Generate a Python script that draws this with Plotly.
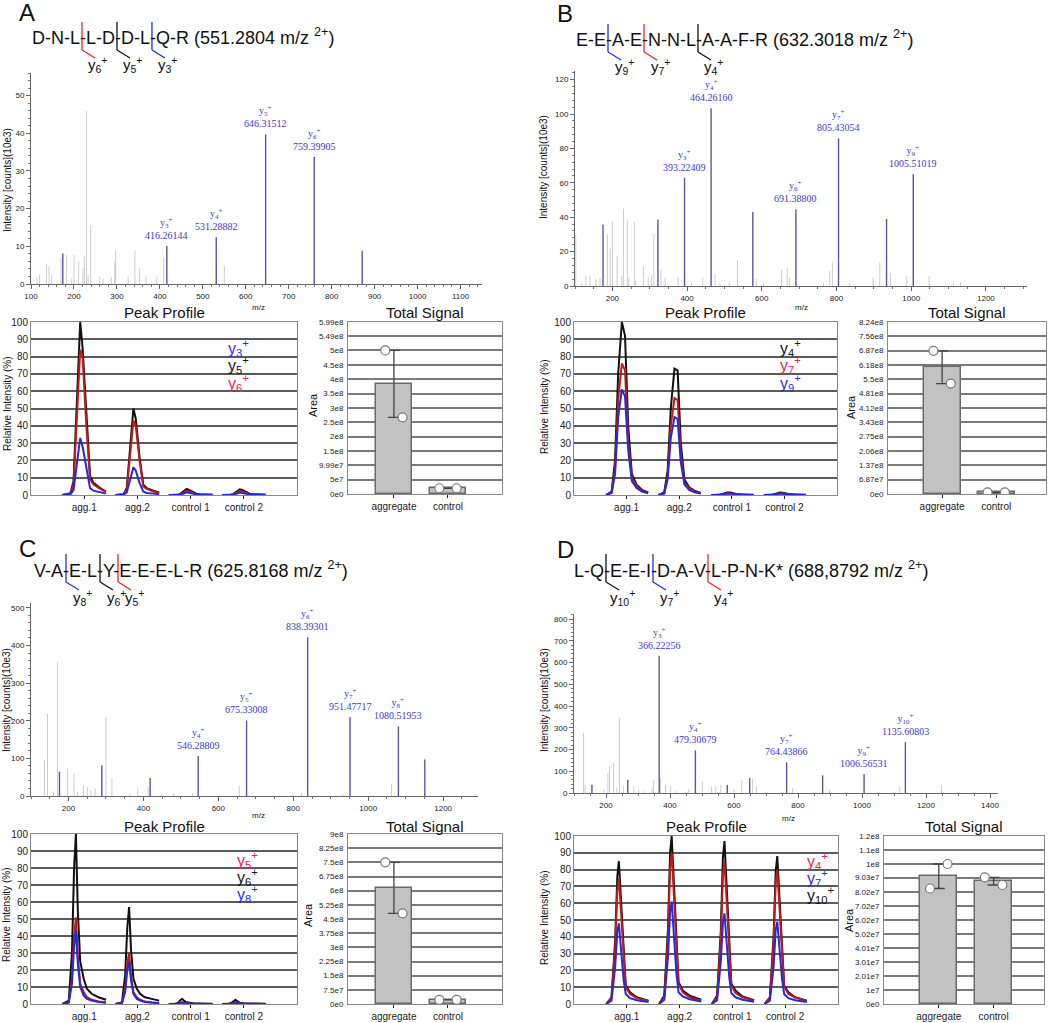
import plotly.graph_objects as go

W, H = 1050, 1023

# ======================= DATA =======================
samples = ["agg.1", "agg.2", "control 1", "control 2"]
groups = ["aggregate", "control"]

# ---------------- Panel A ----------------
A_sequence = ["D", "N", "L", "L", "D", "D", "L", "Q", "R"]
A_precursor = "551.2804"
A_cut_after = [3, 5, 7]
A_cut_ions = ["6", "5", "3"]
A_gray_mz = [114, 120, 136, 142, 148, 170, 183, 195, 200, 211, 221, 224, 229, 233, 239,
             260, 268, 287, 295, 297, 326, 342, 353, 368, 393, 409, 550]
A_gray_int = [1.8, 2.4, 5.3, 4.6, 2.4, 6.8, 7.7, 1.5, 7.7, 5.9, 4.2, 7.4, 46.0, 2.4, 15.6,
              2.0, 1.5, 1.8, 5.9, 8.8, 2.0, 8.8, 4.2, 2.0, 2.0, 7.1, 4.8]
A_blue_mz = [174, 871]
A_blue_int = [8.1, 8.8]
A_lab_mz = [416.26144, 531.28882, 646.31512, 759.39905]
A_lab_int = [10.1, 12.4, 39.7, 33.7]
A_lab_ion = ["3", "4", "5", "6"]
A_pp_offsets = [-0.41, -0.26, -0.20, -0.126, -0.075, -0.03, 0.04, 0.11, 0.175, 0.30, 0.41]
A_pp_y5 = [[0, 1, 8, 60, 100, 85, 45, 11, 7, 4, 2],
           [0, 0.5, 4, 30, 50, 44, 22, 6, 4, 2.5, 1.5],
           [0, 0, 0.5, 2.2, 3.5, 3.0, 1.8, 0.8, 0.5, 0.3, 0.2],
           [0, 0, 0.5, 2.0, 3.3, 2.9, 1.7, 0.8, 0.5, 0.3, 0.2]]
A_pp_y6 = [[0, 0.8, 6, 50, 84, 80, 40, 9, 6, 3.5, 1.8],
           [0, 0.4, 3, 25, 43, 40, 20, 5, 3.5, 2, 1.2],
           [0, 0, 0.3, 1.5, 2.5, 2.2, 1.2, 0.5, 0.3, 0.2, 0.1],
           [0, 0, 0.3, 1.4, 2.4, 2.1, 1.2, 0.5, 0.3, 0.2, 0.1]]
A_pp_y3 = [[0, 0.3, 3, 20, 33, 28, 15, 4, 2.5, 1.5, 0.8],
           [0, 0.2, 1.5, 10, 16, 14, 7, 2, 1.2, 0.8, 0.5],
           [0, 0, 0.2, 0.9, 1.5, 1.3, 0.7, 0.3, 0.2, 0.1, 0.05],
           [0, 0, 0.2, 0.9, 1.4, 1.2, 0.7, 0.3, 0.2, 0.1, 0.05]]
A_ts_aggregate = [5.0e8, 2.67e8]
A_ts_control = [2.0e7, 2.0e7]
A_ts_ticks = ["0e0", "5e7", "9.99e7", "1.5e8", "2e8", "2.5e8", "3e8", "3.5e8", "4e8",
              "4.5e8", "5e8", "5.49e8", "5.99e8"]

# ---------------- Panel B ----------------
B_sequence = ["E", "E", "A", "E", "N", "N", "L", "A", "A", "F", "R"]
B_precursor = "632.3018"
B_cut_after = [2, 4, 7]
B_cut_ions = ["9", "7", "4"]
B_gray_mz = [102, 118, 129, 140, 156, 167, 187, 194, 200, 213, 225, 230, 240, 244, 259, 262,
             283, 296, 305, 311, 330, 341, 376, 412, 442, 475, 488, 513, 535, 586, 604, 653,
             668, 674, 765, 782, 789, 836, 898, 916, 945, 988, 1048, 1113, 1132]
B_gray_int = [30, 2, 6, 6, 4, 4.7, 29.5, 21.7, 37.3, 17.3, 6, 45, 38, 5, 37, 3,
              11, 5, 6, 30.5, 9.5, 5, 5, 2, 5, 7, 2, 2, 15, 4, 2, 9.5,
              10.5, 5, 2, 8.7, 13.8, 2, 5, 13.8, 7.6, 5.6, 6, 2, 2.3]
B_blue_mz = [175, 322, 576, 934]
B_blue_int = [35.7, 38.6, 43, 39]
B_lab_mz = [393.22409, 464.26160, 691.38800, 805.43054, 1005.51019]
B_lab_int = [62.9, 103.3, 44.5, 85.8, 64.9]
B_lab_ion = ["3", "4", "6", "7", "9"]
B_pp_offsets = [-0.39, -0.285, -0.22, -0.16, -0.09, -0.03, 0.03, 0.10, 0.19, 0.29, 0.41]
B_pp_y4 = [[0, 2, 20, 70, 100, 92, 40, 12, 6, 3, 1.5],
           [0, 1.5, 14, 50, 73, 72, 30, 9, 4.5, 2.5, 1.2],
           [0, 0, 0.2, 0.8, 1.5, 1.4, 0.8, 0.4, 0.2, 0.1, 0.1],
           [0, 0, 0.2, 0.8, 1.4, 1.3, 0.8, 0.4, 0.2, 0.1, 0.1]]
B_pp_y7 = [[0, 1.5, 15, 55, 76, 72, 32, 10, 5, 2.5, 1.2],
           [0, 1, 11, 40, 56, 55, 24, 7, 4, 2, 1],
           [0, 0, 0.1, 0.5, 1, 0.9, 0.5, 0.3, 0.1, 0.1, 0],
           [0, 0, 0.1, 0.5, 1, 0.9, 0.5, 0.3, 0.1, 0.1, 0]]
B_pp_y9 = [[0, 1.2, 12, 45, 61, 57, 26, 8, 4, 2, 1],
           [0, 0.8, 9, 33, 45, 44, 19, 6, 3, 1.6, 0.8],
           [0, 0, 0.1, 0.4, 0.8, 0.7, 0.4, 0.2, 0.1, 0.05, 0],
           [0, 0, 0.1, 0.4, 0.8, 0.7, 0.4, 0.2, 0.1, 0.05, 0]]
B_ts_aggregate = [6.86e8, 5.29e8]
B_ts_control = [8.0e6, 8.0e6]
B_ts_ticks = ["0e0", "6.87e7", "1.37e8", "2.06e8", "2.75e8", "3.43e8", "4.12e8", "4.81e8",
              "5.5e8", "6.18e8", "6.87e8", "7.56e8", "8.24e8"]

# ---------------- Panel C ----------------
C_sequence = ["V", "A", "E", "L", "Y", "E", "E", "E", "L", "R"]
C_precursor = "625.8168"
C_cut_after = [2, 4, 5]
C_cut_ions = ["8", "6", "5"]
C_gray_mz = [136, 144, 160, 171, 198, 215, 224, 240, 251, 260, 271, 300, 316, 364, 385,
             413, 449, 480, 531, 656, 800, 822, 933, 1062]
C_gray_int = [95, 219, 12, 356, 73, 59, 11, 28, 24, 15, 20, 210, 48, 6, 20,
              24, 6, 6, 8, 27, 4, 8, 4, 33]
C_blue_mz = [176, 289, 418, 1151]
C_blue_int = [65, 81, 48, 97]
C_lab_mz = [546.28809, 675.33008, 838.39301, 951.47717, 1080.51953]
C_lab_int = [106, 201, 422, 210, 185]
C_lab_ion = ["4", "5", "6", "7", "8"]
C_pp_offsets = [-0.41, -0.29, -0.23, -0.19, -0.156, -0.12, -0.075, -0.01, 0.05, 0.14, 0.27, 0.41]
C_pp_y6 = [[0, 2, 30, 80, 100, 55, 25, 15, 9, 6, 4, 2.5],
           [0, 1, 17, 45, 57, 32, 15, 9, 6, 4, 3, 2],
           [0, 0, 0.8, 2.4, 3, 1.8, 1, 0.6, 0.4, 0.3, 0.2, 0.1],
           [0, 0, 0.7, 2, 2.5, 1.5, 0.8, 0.5, 0.4, 0.3, 0.2, 0.1]]
C_pp_y5 = [[0, 1, 15, 40, 51, 28, 12, 7, 4, 2.5, 1.5, 1],
           [0, 0.6, 9, 24, 30, 17, 7, 4, 2.5, 1.5, 1, 0.6],
           [0, 0, 0.3, 0.8, 1, 0.6, 0.3, 0.2, 0.1, 0.1, 0.1, 0],
           [0, 0, 0.3, 0.8, 1, 0.6, 0.3, 0.2, 0.1, 0.1, 0.1, 0]]
C_pp_y8 = [[0, 0.8, 12, 34, 43, 24, 10, 5, 3, 2, 1.2, 0.8],
           [0, 0.5, 7, 20, 25, 14, 6, 3, 2, 1.2, 0.8, 0.5],
           [0, 0, 0.2, 0.6, 0.8, 0.5, 0.3, 0.2, 0.1, 0.1, 0, 0],
           [0, 0, 0.2, 0.6, 0.8, 0.5, 0.3, 0.2, 0.1, 0.1, 0, 0]]
C_ts_aggregate = [7.5e8, 4.8e8]
C_ts_control = [2.2e7, 2.2e7]
C_ts_ticks = ["0e0", "7.5e7", "1.5e8", "2.25e8", "3e8", "3.75e8", "4.5e8", "5.25e8", "6e8",
              "6.75e8", "7.5e8", "8.25e8", "9e8"]

# ---------------- Panel D ----------------
D_sequence = ["L", "Q", "E", "E", "I", "D", "A", "V", "L", "P", "N", "K*"]
D_precursor = "688,8792"
D_cut_after = [2, 5, 8]
D_cut_ions = ["10", "7", "4"]
D_gray_mz = [130, 135, 193, 206, 211, 224, 234, 242, 255, 287, 302, 321, 344, 349, 370, 386,
             402, 417, 459, 501, 530, 543, 559, 600, 624, 658, 670, 783, 898, 1118, 1248]
D_gray_int = [276, 38, 15, 92, 123, 138, 23, 345, 31, 31, 15, 8, 26, 61, 69, 38,
              31, 8, 18, 54, 28, 31, 38, 15, 61, 64, 31, 23, 15, 28, 37]
D_blue_mz = [156, 268, 579, 649, 877]
D_blue_int = [38, 61, 38, 69, 81]
D_lab_mz = [366.22256, 479.30679, 764.43866, 1006.56531, 1135.60803]
D_lab_int = [631, 196, 141, 87, 234]
D_lab_ion = ["3", "4", "7", "9", "10"]
D_pp_offsets = [-0.39, -0.29, -0.22, -0.18, -0.15, -0.11, -0.06, -0.02, 0.06, 0.19, 0.41]
D_pp_y10 = [[0, 4, 38, 76, 85, 62, 28, 11, 7, 4, 2],
            [0, 5, 45, 90, 100, 73, 33, 13, 8, 5, 2.5],
            [0, 5, 43, 87, 97, 70, 32, 12, 8, 4.5, 2.2],
            [0, 4, 40, 79, 88, 64, 29, 11, 7, 4, 2]]
D_pp_y4 = [[0, 3.5, 34, 67, 75, 55, 24, 10, 6, 3.5, 1.8],
           [0, 4, 40, 81, 90, 66, 30, 12, 7, 4, 2],
           [0, 4, 38, 76, 85, 62, 28, 11, 6.5, 4, 2],
           [0, 3.8, 36, 72, 80, 59, 26, 10.5, 6, 3.8, 1.9]]
D_pp_y7 = [[0, 2, 22, 43, 48, 34, 14, 6, 3.5, 2.2, 1.2],
           [0, 2.5, 28, 55, 61, 43, 18, 7, 4.5, 2.8, 1.5],
           [0, 2.2, 25, 48, 54, 38, 16, 6.5, 4, 2.5, 1.3],
           [0, 2, 22, 44, 49, 35, 15, 6, 3.5, 2.2, 1.2]]
D_ts_aggregate = [8.25e7, 1.0e8]
D_ts_control = [9.05e7, 8.5e7]
D_ts_ticks = ["0e0", "1e7", "2.01e7", "3.01e7", "4.01e7", "5.02e7", "6.02e7", "7.02e7",
              "8.02e7", "9.03e7", "1e8", "1.1e8", "1.2e8"]

# ======================= STYLE =======================
FONT = "Liberation Sans, Arial, sans-serif"
SERIF = "Liberation Serif, Times New Roman, serif"
BLACK = "#111111"
RED_LINE = "#c01a1a"
BLUE_LINE = "#2828d8"
RED_TXT = "#f0204a"
BLUE_TXT = "#2a2aff"
MARK_RED = "#e8282c"
MARK_BLUE = "#2030e0"
SPEC_BLUE = "#5656aa"
SPEC_GRAY = "#cdcdcd"
SPEC_LABEL = "#3a3ac8"

AW = {'A': 667, 'B': 667, 'C': 722, 'D': 722, 'E': 667, 'F': 611, 'G': 778, 'H': 722,
      'I': 278, 'K': 667, 'L': 556, 'M': 833, 'N': 722, 'P': 667, 'Q': 778, 'R': 722,
      'S': 667, 'T': 611, 'V': 667, 'W': 944, 'Y': 667, '-': 333, '*': 389}


def em(s):
    return sum(AW.get(c, 556) for c in s) / 1000.0


def px(x):
    return x / W


def py(y):
    return 1 - y / H


panels = [
    dict(letter="A", letter_xy=(17, 13), seq=A_sequence, prec=A_precursor, seq_x=30, base=46,
         cuts=A_cut_after, cut_ions=A_cut_ions, cut_colors=[MARK_RED, BLACK, MARK_BLUE],
         gray=(A_gray_mz, A_gray_int), blue=(A_blue_mz, A_blue_int),
         lab=(A_lab_mz, A_lab_int, A_lab_ion),
         spec_frame=(31, 482, 73, 284), xr=[100, 1150], yr=[0, 56], xdt=100, xt0=100, xmin=20,
         ydt=10, ymin=2, mz_xy=(258, 308), ytitle_xy=(7, 180),
         pp_frame=(31, 297, 322, 495), pp_off=A_pp_offsets,
         pp=[("5", A_pp_y5, BLACK), ("6", A_pp_y6, RED_LINE), ("3", A_pp_y3, BLUE_LINE)],
         leg=[("3", BLUE_TXT), ("5", BLACK), ("6", RED_TXT)], leg_x=3.67,
         pp_ytitle_xy=(7, 404), pp_title_y=313,
         ts_frame=(348, 502, 322, 494), ts_xr=[0.15, 3.0], ts=(A_ts_aggregate, A_ts_control),
         ts_ticks=A_ts_ticks, area_xy=(313, 405)),
    dict(letter="B", letter_xy=(555, 14), seq=B_sequence, prec=B_precursor, seq_x=574, base=48,
         cuts=B_cut_after, cut_ions=B_cut_ions, cut_colors=[MARK_BLUE, MARK_RED, BLACK],
         gray=(B_gray_mz, B_gray_int), blue=(B_blue_mz, B_blue_int),
         lab=(B_lab_mz, B_lab_int, B_lab_ion),
         spec_frame=(575, 1027, 71, 286), xr=[100, 1310], yr=[0, 125], xdt=200, xt0=0, xmin=50,
         ydt=20, ymin=4, mz_xy=(801, 308), ytitle_xy=(544, 167),
         pp_frame=(574, 837, 322, 495), pp_off=B_pp_offsets,
         pp=[("4", B_pp_y4, BLACK), ("7", B_pp_y7, RED_LINE), ("9", B_pp_y9, BLUE_LINE)],
         leg=[("4", BLACK), ("7", RED_TXT), ("9", BLUE_TXT)], leg_x=3.88,
         pp_ytitle_xy=(544, 407), pp_title_y=313,
         ts_frame=(888, 1046, 322, 494), ts_xr=[0.0, 2.92], ts=(B_ts_aggregate, B_ts_control),
         ts_ticks=B_ts_ticks, area_xy=(851, 407)),
    dict(letter="C", letter_xy=(17, 548), seq=C_sequence, prec=C_precursor, seq_x=32, base=578,
         cuts=C_cut_after, cut_ions=C_cut_ions, cut_colors=[MARK_BLUE, BLACK, MARK_RED],
         gray=(C_gray_mz, C_gray_int), blue=(C_blue_mz, C_blue_int),
         lab=(C_lab_mz, C_lab_int, C_lab_ion),
         spec_frame=(31, 478, 603, 796), xr=[100, 1293], yr=[0, 513], xdt=200, xt0=0, xmin=50,
         ydt=100, ymin=20, mz_xy=(258, 815), ytitle_xy=(6, 700),
         pp_frame=(31, 297, 834, 1004), pp_off=C_pp_offsets,
         pp=[("6", C_pp_y6, BLACK), ("5", C_pp_y5, RED_LINE), ("8", C_pp_y8, BLUE_LINE)],
         leg=[("5", RED_TXT), ("6", BLACK), ("8", BLUE_TXT)], leg_x=3.83,
         pp_ytitle_xy=(6, 915), pp_title_y=826,
         ts_frame=(348, 502, 834, 1004), ts_xr=[0.15, 3.0], ts=(C_ts_aggregate, C_ts_control),
         ts_ticks=C_ts_ticks, area_xy=(308, 915)),
    dict(letter="D", letter_xy=(555, 549), seq=D_sequence, prec=D_precursor, seq_x=572, base=578,
         cuts=D_cut_after, cut_ions=D_cut_ions, cut_colors=[BLACK, MARK_BLUE, MARK_RED],
         gray=(D_gray_mz, D_gray_int), blue=(D_blue_mz, D_blue_int),
         lab=(D_lab_mz, D_lab_int, D_lab_ion),
         spec_frame=(574, 998, 614, 793), xr=[100, 1425], yr=[0, 823], xdt=200, xt0=0, xmin=50,
         ydt=100, ymin=20, mz_xy=(788, 818), ytitle_xy=(544, 700),
         pp_frame=(574, 838, 836, 1004), pp_off=D_pp_offsets,
         pp=[("10", D_pp_y10, BLACK), ("4", D_pp_y4, RED_LINE), ("7", D_pp_y7, BLUE_LINE)],
         leg=[("4", RED_TXT), ("7", BLUE_TXT), ("10", BLACK)], leg_x=4.37,
         pp_ytitle_xy=(544, 918), pp_title_y=826,
         ts_frame=(884, 1044, 836, 1004), ts_xr=[0.0, 2.92], ts=(D_ts_aggregate, D_ts_control),
         ts_ticks=D_ts_ticks, area_xy=(849, 920)),
]

fig = go.Figure()
layout = dict(width=W, height=H, margin=dict(l=0, r=0, t=0, b=0, pad=0), paper_bgcolor="white",
              plot_bgcolor="white", showlegend=False, font=dict(family=FONT, color="#111"),
              bargap=0)
annotations = []
shapes = []


def ann(x, y, text, size, color="#111", family=FONT, xanchor="center", yanchor="middle",
        angle=0):
    annotations.append(dict(x=px(x), y=py(y), xref="paper", yref="paper", text=text,
                            showarrow=False, xanchor=xanchor, yanchor=yanchor, textangle=angle,
                            font=dict(size=size, color=color, family=family)))


def axname(n, kind):
    return kind if n == 1 else f"{kind}{n}"


for i, p in enumerate(panels):
    # ---------------- header ----------------
    lx, ly = p["letter_xy"]
    ann(lx, ly, p["letter"], 24, xanchor="left")
    fs = 18
    seq_str = "-".join(p["seq"])
    ann(p["seq_x"], p["base"] - 9,
        f"{seq_str} ({p['prec']} m/z <sup>2+</sup>)", fs, xanchor="left")
    base = p["base"]
    for k, ion, col in zip(p["cuts"], p["cut_ions"], p["cut_colors"]):
        prefix = "-".join(p["seq"][:k])
        hx = p["seq_x"] + 1 + fs * (em(prefix) + 0.1665)
        shapes.append(dict(type="line", xref="paper", yref="paper", x0=px(hx), y0=py(base - 24),
                           x1=px(hx), y1=py(base + 4), line=dict(color=col, width=1.3)))
        shapes.append(dict(type="line", xref="paper", yref="paper", x0=px(hx), y0=py(base + 4),
                           x1=px(hx + 13), y1=py(base + 12), line=dict(color=col, width=1.3)))
        ann(hx + 16, base + 19, f"y<sub>{ion}</sub><sup>+</sup>", 15)

    # ---------------- spectrum ----------------
    n = i + 1
    xa, ya = axname(n, "x"), axname(n, "y")
    x0, x1, y0, y1 = p["spec_frame"]
    layout[axname(n, "xaxis")] = dict(
        domain=[px(x0), px(x1)], anchor=ya, range=p["xr"], showgrid=False, zeroline=False,
        automargin=False,
        showline=True, linecolor="#666", linewidth=1, ticks="outside", ticklen=4,
        tickcolor="#666", dtick=p["xdt"], tick0=p["xt0"], tickfont=dict(size=8, color="#222"),
        minor=dict(ticks="outside", ticklen=2, dtick=p["xmin"], tickcolor="#777"))
    layout[axname(n, "yaxis")] = dict(
        domain=[py(y1), py(y0)], anchor=xa, range=p["yr"], showgrid=False, zeroline=False,
        automargin=False,
        showline=True, linecolor="#666", linewidth=1, ticks="outside", ticklen=4,
        tickcolor="#666", dtick=p["ydt"], tickfont=dict(size=8, color="#222"),
        minor=dict(ticks="outside", ticklen=2, dtick=p["ymin"], tickcolor="#777"))

    def sticks(mzs, ints):
        xs, ys = [], []
        for m, h in zip(mzs, ints):
            xs += [m, m, None]
            ys += [0, h, None]
        return xs, ys

    gx, gy = sticks(*p["gray"])
    fig.add_trace(go.Scatter(x=gx, y=gy, mode="lines", line=dict(color=SPEC_GRAY, width=1),
                             xaxis=xa, yaxis=ya, hoverinfo="skip"))
    bx, by = sticks(p["blue"][0] + p["lab"][0], p["blue"][1] + p["lab"][1])
    fig.add_trace(go.Scatter(x=bx, y=by, mode="lines", line=dict(color=SPEC_BLUE, width=1.4),
                             xaxis=xa, yaxis=ya, hoverinfo="skip"))
    for m, h, ion in zip(*p["lab"]):
        annotations.append(dict(x=m, y=h, xref=xa, yref=ya, showarrow=False, xanchor="center",
                                yanchor="bottom", yshift=3,
                                text=f"y<sub>{ion}</sub><sup>+</sup><br>{m:.5f}",
                                font=dict(size=10, color=SPEC_LABEL, family=SERIF)))
    ann(*p["mz_xy"], "m/z", 8)
    ann(*p["ytitle_xy"], "Intensity [counts](10e3)", 10, angle=-90)

    # ---------------- peak profile ----------------
    n = i + 5
    xa, ya = axname(n, "x"), axname(n, "y")
    x0, x1, y0, y1 = p["pp_frame"]
    layout[axname(n, "xaxis")] = dict(
        domain=[px(x0), px(x1)], anchor=ya, range=[0, 5], showgrid=False, zeroline=False,
        automargin=False,
        showline=True, mirror=True, linecolor="#888", linewidth=1, ticks="outside", ticklen=3,
        tickcolor="#222", tickvals=[1, 2, 3, 4], ticktext=samples,
        tickfont=dict(size=10, color="#222"))
    layout[axname(n, "yaxis")] = dict(
        domain=[py(y1), py(y0)], anchor=xa, range=[0, 100], showgrid=True, gridcolor="#5a5a5a",
        automargin=False,
        gridwidth=1.5, zeroline=False, showline=True, mirror=True, linecolor="#888",
        linewidth=1, ticks="", dtick=10, tickfont=dict(size=10, color="#222"))
    for ion, peaks, col in p["pp"]:
        xs, ys = [], []
        for s, vals in enumerate(peaks):
            for o, v in zip(p["pp_off"], vals):
                xs.append(s + 1 + o)
                ys.append(v)
            xs.append(None)
            ys.append(None)
        fig.add_trace(go.Scatter(x=xs, y=ys, mode="lines", line=dict(color=col, width=2),
                                 xaxis=xa, yaxis=ya, hoverinfo="skip"))
    for j, (ion, col) in enumerate(p["leg"]):
        annotations.append(dict(x=p["leg_x"], y=85 - 10 * j, xref=xa, yref=ya, showarrow=False,
                                xanchor="left", yanchor="middle",
                                text=f"y<sub>{ion}</sub><sup>+</sup>",
                                font=dict(size=16, color=col, family=FONT)))
    ann((x0 + x1) / 2, p["pp_title_y"], "Peak Profile", 15)
    ann(*p["pp_ytitle_xy"], "Relative Intensity (%)", 10, angle=-90)

    # ---------------- total signal ----------------
    n = i + 9
    xa, ya = axname(n, "x"), axname(n, "y")
    x0, x1, y0, y1 = p["ts_frame"]
    tickvals = [float(t) for t in p["ts_ticks"]]
    layout[axname(n, "xaxis")] = dict(
        domain=[px(x0), px(x1)], anchor=ya, range=p["ts_xr"], showgrid=False, zeroline=False,
        automargin=False,
        showline=True, mirror=True, linecolor="#888", linewidth=1, ticks="outside", ticklen=3,
        tickcolor="#222", tickvals=[1, 2], ticktext=groups, tickfont=dict(size=10, color="#222"))
    layout[axname(n, "yaxis")] = dict(
        domain=[py(y1), py(y0)], anchor=xa, range=[0, tickvals[-1]], showgrid=True,
        automargin=False,
        gridcolor="#7a7a7a", gridwidth=1.5, zeroline=False, showline=True, mirror=True,
        linecolor="#888", linewidth=1, ticks="", tickvals=tickvals, ticktext=p["ts_ticks"],
        ticklabelstandoff=2, tickfont=dict(size=8, color="#222", family=FONT))
    agg, ctl = p["ts"]
    means = [sum(agg) / len(agg), sum(ctl) / len(ctl)]
    eplus = [max(agg) - means[0], max(ctl) - means[1]]
    eminus = [means[0] - min(agg), means[1] - min(ctl)]
    fig.add_trace(go.Bar(x=[1, 2], y=means, width=0.68,
                         marker=dict(color="#c2c2c2", line=dict(color="#6a6a6a", width=1.5)),
                         error_y=dict(type="data", symmetric=False, array=eplus,
                                      arrayminus=eminus, color="#444", thickness=1.3, width=6),
                         xaxis=xa, yaxis=ya, hoverinfo="skip"))
    fig.add_trace(go.Scatter(x=[1 - 0.16, 1 + 0.16, 2 - 0.16, 2 + 0.16], y=agg + ctl,
                             mode="markers",
                             marker=dict(size=9, color="white", line=dict(color="#777", width=1.2)),
                             xaxis=xa, yaxis=ya, hoverinfo="skip"))
    ann((x0 + x1) / 2, p["pp_title_y"], "Total Signal", 15)
    ann(*p["area_xy"], "Area", 11, angle=-90)

layout["annotations"] = annotations
layout["shapes"] = shapes
fig.update_layout(**layout)
fig.write_html("out.html", config={"displayModeBar": False},
               post_script="document.body.style.margin='0';")
